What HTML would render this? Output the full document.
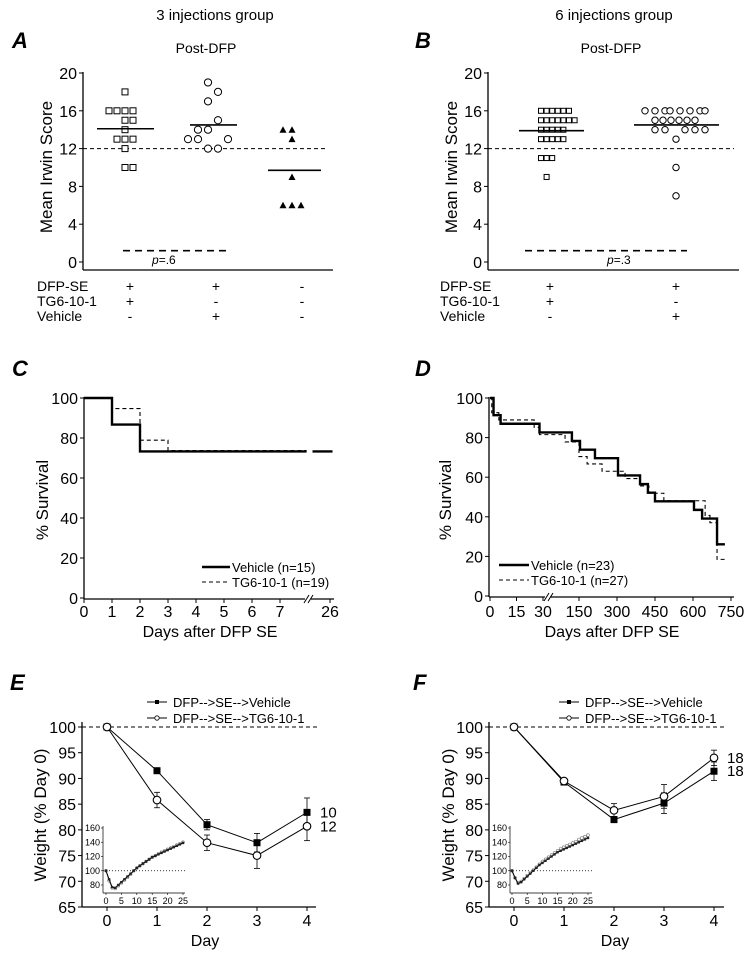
<!DOCTYPE html>
<html><head><meta charset="utf-8"><style>
html,body{margin:0;padding:0;background:#fff;}
svg{display:block;font-family:"Liberation Sans",Arial,sans-serif;}
</style></head><body>
<svg id="fig" width="754" height="958" viewBox="0 0 754 958" xmlns="http://www.w3.org/2000/svg">
<rect x="0" y="0" width="754" height="958" fill="#fff"/>
<text x="215" y="20" font-size="15" text-anchor="middle">3 injections group</text>
<text x="614" y="20" font-size="15" text-anchor="middle">6 injections group</text>
<text x="12" y="48" font-size="22" font-weight="bold" font-style="italic">A</text>
<text x="415" y="48" font-size="22" font-weight="bold" font-style="italic">B</text>
<text x="206" y="53" font-size="14" text-anchor="middle">Post-DFP</text>
<text x="611" y="53" font-size="14" text-anchor="middle">Post-DFP</text>
<text x="12" y="376" font-size="22" font-weight="bold" font-style="italic">C</text>
<text x="415" y="376" font-size="22" font-weight="bold" font-style="italic">D</text>
<text x="10" y="690" font-size="22" font-weight="bold" font-style="italic">E</text>
<text x="413" y="690" font-size="22" font-weight="bold" font-style="italic">F</text>
<text transform="translate(52,167) rotate(-90)" font-size="17" text-anchor="middle">Mean Irwin Score</text>
<text transform="translate(457,167) rotate(-90)" font-size="17" text-anchor="middle">Mean Irwin Score</text>
<text transform="translate(48,500) rotate(-90)" font-size="17" text-anchor="middle">% Survival</text>
<text transform="translate(451,500) rotate(-90)" font-size="17" text-anchor="middle">% Survival</text>
<text transform="translate(46,815) rotate(-90)" font-size="17" text-anchor="middle">Weight (% Day 0)</text>
<text transform="translate(454,815) rotate(-90)" font-size="17" text-anchor="middle">Weight (% Day 0)</text>
<text x="210" y="637" font-size="16" text-anchor="middle">Days after DFP SE</text>
<text x="612" y="637" font-size="16" text-anchor="middle">Days after DFP SE</text>
<text x="205" y="946" font-size="16" text-anchor="middle">Day</text>
<text x="615" y="946" font-size="16" text-anchor="middle">Day</text>
<text x="152" y="264" font-size="12"><tspan font-style="italic">p</tspan>=.6</text>
<text x="607" y="264" font-size="12"><tspan font-style="italic">p</tspan>=.3</text>
</svg>
<script>
// ---------- DATA ----------
const aSqVals = [18,16,16,16,16,15,15,14,13,13,13,12,10,10];
const aSqSlot = [0,-2,-1,0,1,0,1,0,-1,0,1,0,0,1];
const aCiVals = [19,18,17,15,14,14,13,13,13,12,12];
const aCiSlot = [0,1,0,1,-1,0,-2,-1,2,0,1];
const aTrVals = [14,14,13,9,6,6,6];
const aTrSlot = [-1,0,0,0,-1,0,1];
const aMeans = [14.1,14.5,9.7];
const bSqVals = [16,16,16,16,16,16,15,15,15,15,15,15,15,14,14,14,14,14,13,13,13,13,13,11,11,11,9];
const bSqSlot = [-2.5,-1.5,-0.5,0.5,1.5,2.5,-2.5,-1.5,-0.5,0.5,1.5,2.5,3.5,-2.5,-1.5,-0.5,0.5,1.5,-2.5,-1.5,-0.5,0.5,1.5,-2.5,-1.5,-0.5,-1.5];
const bCiVals = [16,16,16,16,16,16,16,16,15,15,15,15,15,15,14,14,14,14,14,13,10,7];
const bCiSlot = [-3.1,-2.1,-1.1,-0.6,0.4,1.4,2.4,2.9,-2.1,-1.3,-0.5,0.3,1.1,1.9,-2.1,-1.1,0.9,1.9,2.9,0,0,0];
const bMeans = [13.9,14.5];
const yTicksIrwin = [0,4,8,12,16,20];
const rowLabels = ["DFP-SE","TG6-10-1","Vehicle"];
const signsA = [["+","+","-"],["+","-","-"],["-","+","-"]];
const signsB = [["+","+"],["+","-"],["-","+"]];
const cVehT = [0,1,2];
const cVehS = [100,86.7,73.3];
const cTgT = [0,1,2,3];
const cTgS = [100,94.7,78.9,73.7];
const cEndDays = [7.95,25.3,26.1];
const cXTicks = [0,1,2,3,4,5,6,7,26];
const survTicks = [0,20,40,60,80,100];
const dVehT = [0,2,6,28,122,154,213,304,391,422,450,604,636,695];
const dVehS = [100,91.3,87,82.6,78.3,73.9,69.6,60.9,56.5,52.2,47.8,43.5,39.1,26.1];
const dTgT = [0,1,5,25,28,95,150,182,241,332,391,426,485,648,667,695];
const dTgS = [100,92.6,88.9,85.2,81.5,77.8,70.4,66.7,63,59.3,55.6,51.9,48.1,40.7,37,29.6];
const dTgLast = [18.5];
const dEndDay = 726;
const dXTicks = [0,15,30,150,300,450,600,750];
const wDays = [0,1,2,3,4];
const eVeh = [100,91.5,81,77.5,83.4];
const eVehErr = [0,0.5,1,1.8,2.8];
const eTg = [100,85.8,77.5,75,80.7];
const eTgErr = [0,1.5,1.5,2.5,2.8];
const eN = ["10","12"];
const fVeh = [100,89.3,82,85.2,91.4];
const fVehErr = [0,0.6,0.6,2,1.8];
const fTg = [100,89.5,83.8,86.5,94];
const fTgErr = [0,0.4,1.3,2.3,1.5];
const fN = ["18","18"];
const wTicks = [65,70,75,80,85,90,95,100];
const inDays = [0,1,2,3,4,5,6,7,8,9,10,11,12,13,14,15,16,17,18,19,20,21,22,23,24,25];
const eInVeh = [100,88,77,76,80,84,88,92,96,100,104,107,110,113,116,119,121,123,125,127,129,131,133,135,137,139];
const eInTg = [100,86,76,75,79,83,87,91,95,100,104,107,110,113,116,119,121,124,126,128,130,132,134,136,138,140];
const fInVeh = [100,90,82,84,88,92,96,100,104,108,111,114,117,120,123,126,128,130,132,134,136,138,140,142,144,146];
const fInTg = [100,90,83,85,89,93,97,101,105,109,113,116,119,122,125,128,131,133,135,137,139,141,144,146,148,150];
const inYTicks = [80,100,120,140,160];
const inXTicks = [0,5,10,15,20,25];

// ---------- HELPERS ----------
const svg = document.getElementById('fig');
const NS = 'http://www.w3.org/2000/svg';
function mk(tag, attrs, name) {
  const el = document.createElementNS(NS, tag);
  for (const k in attrs) el.setAttribute(k, attrs[k]);
  
  
  svg.appendChild(el);
  return el;
}
function ln(x1,y1,x2,y2,name,w,dash){
  const a = {x1:x1,y1:y1,x2:x2,y2:y2,stroke:'#000','stroke-width':w||1};
  if (dash) a['stroke-dasharray'] = dash;
  return mk('line', a, name);
}
function tx(x,y,s,size,anchor,name){
  const t = mk('text', {x:x,y:y,'font-size':size,'text-anchor':anchor||'start'}, name);
  t.textContent = s;
  return t;
}
function stepPath(T,S,xf,yf,endT){
  let d = 'M'+xf(T[0])+','+yf(S[0]);
  for (let i=1;i<T.length;i++){ d += ' L'+xf(T[i])+','+yf(S[i-1])+' L'+xf(T[i])+','+yf(S[i]); }
  d += ' L'+xf(endT)+','+yf(S[S.length-1]);
  return d;
}

// ---------- PANELS A & B ----------
function irwinAxes(ax, x2, yf, tag){
  ln(ax, yf(20)-1, ax, 270, 'y-axis-'+tag, 1.3);
  ln(ax, 270, x2, 270, 'x-axis-'+tag, 1.3);
  yTicksIrwin.forEach(v=>{
    ln(ax-4, yf(v), ax, yf(v), 'y-tick-'+tag);
    tx(ax-6, yf(v)+6, String(v), 16, 'end', 'y-tick-label-'+tag);
  });
}
const yA = v => 262 - v*9.45;
irwinAxes(83, 333, yA, 'a');
irwinAxes(488, 739, yA, 'b');
ln(83, yA(12), 328, yA(12), 'threshold-line-a', 1, '4,3');
ln(488, yA(12), 734, yA(12), 'threshold-line-b', 1, '4,3');
ln(123, yA(1.2), 228, yA(1.2), 'comparison-bar-a', 1.6, '7,5');
ln(525, yA(1.2), 687, yA(1.2), 'comparison-bar-b', 1.6, '7,5');

const colA = [125,208,292];
aSqVals.forEach((v,i)=>{ mk('rect',{x:colA[0]+aSqSlot[i]*8-3,y:yA(v)-3,width:6,height:6,fill:'#fff',stroke:'#000','stroke-width':1},'square-point-a'); });
aCiVals.forEach((v,i)=>{ mk('circle',{cx:colA[1]+aCiSlot[i]*10,cy:yA(v),r:3.6,fill:'#fff',stroke:'#000','stroke-width':1},'circle-point-a'); });
aTrVals.forEach((v,i)=>{ const x=colA[2]+aTrSlot[i]*9, y=yA(v);
  mk('polygon',{points:(x-3.5)+','+(y+3)+' '+(x+3.5)+','+(y+3)+' '+x+','+(y-3.5),fill:'#000'},'triangle-point-a'); });
const meanSpanA = [[97,154],[190,237],[268,321]];
aMeans.forEach((m,i)=>{ ln(meanSpanA[i][0], yA(m), meanSpanA[i][1], yA(m), 'mean-line-a', 1.6); });

const colB = [555,676];
bSqVals.forEach((v,i)=>{ mk('rect',{x:colB[0]+bSqSlot[i]*5.6-2.5,y:yA(v)-2.5,width:5,height:5,fill:'#fff',stroke:'#000','stroke-width':1},'square-point-b'); });
bCiVals.forEach((v,i)=>{ mk('circle',{cx:colB[1]+bCiSlot[i]*10,cy:yA(v),r:3.2,fill:'#fff',stroke:'#000','stroke-width':1},'circle-point-b'); });
const meanSpanB = [[519,584],[634,719]];
bMeans.forEach((m,i)=>{ ln(meanSpanB[i][0], yA(m), meanSpanB[i][1], yA(m), 'mean-line-b', 1.6); });

const rowY = [291,306,321];
const signXA = [130,216,302];
const signXB = [550,676];
rowLabels.forEach((r,j)=>{
  tx(37, rowY[j], r, 14, 'start', 'row-label-a');
  tx(440, rowY[j], r, 14, 'start', 'row-label-b');
  signsA[j].forEach((s,i)=>{ tx(signXA[i], rowY[j], s, 14, 'middle', 'sign-a'); });
  signsB[j].forEach((s,i)=>{ tx(signXB[i], rowY[j], s, 14, 'middle', 'sign-b'); });
});

// ---------- PANEL C ----------
const xC = d => d <= 8 ? 84 + d*28 : 330 + (d-26)*25;
const yC = v => 598 - v*2;
ln(84, yC(100)-1, 84, 599, 'y-axis-c', 1.3);
ln(84, 599, 305, 599, 'x-axis-c', 1.3);
ln(311, 599, 334, 599, 'x-axis-c-right', 1.3);
mk('path',{d:'M304,603 L309,595 M308,603 L313,595',stroke:'#000',fill:'none','stroke-width':1},'axis-break-c');
survTicks.forEach(v=>{ ln(80,yC(v),84,yC(v),'y-tick-c'); tx(78,yC(v)+6,String(v),16,'end','y-tick-label-c'); });
cXTicks.forEach(d=>{ ln(xC(d),599,xC(d),603,'x-tick-c'); tx(xC(d),617,String(d),16,'middle','x-tick-label-c'); });
mk('path',{d:stepPath(cTgT,cTgS,xC,yC,cEndDays[0]),fill:'none',stroke:'#000','stroke-width':1.1,'stroke-dasharray':'4,3'},'survival-line-tg-c');
mk('path',{d:stepPath(cVehT,cVehS,xC,yC,cEndDays[0]),fill:'none',stroke:'#000','stroke-width':2.4},'survival-line-vehicle-c');
ln(xC(cEndDays[1]), yC(cVehS[cVehS.length-1]), xC(cEndDays[2]), yC(cVehS[cVehS.length-1]), 'survival-line-vehicle-c-tail', 2.4);
ln(202,567,230,567,'legend-line-vehicle-c',2.6);
tx(232,572,'Vehicle (n=15)',13,'start','legend-text-vehicle-c');
ln(202,582,230,582,'legend-line-tg-c',1.1,'4,3');
tx(232,587,'TG6-10-1 (n=19)',13,'start','legend-text-tg-c');

// ---------- PANEL D ----------
const xD = d => d <= 30 ? 490 + d*1.767 : 541 + d*0.2533;
const yD = v => 596 - v*1.98;
ln(489, yD(100)-1, 489, 597, 'y-axis-d', 1.3);
ln(489, 597, 545, 597, 'x-axis-d', 1.3);
ln(550, 597, 734, 597, 'x-axis-d-right', 1.3);
mk('path',{d:'M544,601 L549,593 M548,601 L553,593',stroke:'#000',fill:'none','stroke-width':1},'axis-break-d');
survTicks.forEach(v=>{ ln(485,yD(v),489,yD(v),'y-tick-d'); tx(483,yD(v)+6,String(v),16,'end','y-tick-label-d'); });
dXTicks.forEach(d=>{ ln(xD(d),597,xD(d),601,'x-tick-d'); tx(xD(d),617,String(d),16,'middle','x-tick-label-d'); });
mk('path',{d:stepPath(dTgT.concat([695]),dTgS.concat(dTgLast),xD,yD,dEndDay),fill:'none',stroke:'#000','stroke-width':1.1,'stroke-dasharray':'4,3'},'survival-line-tg-d');
mk('path',{d:stepPath(dVehT,dVehS,xD,yD,dEndDay),fill:'none',stroke:'#000','stroke-width':2.4},'survival-line-vehicle-d');
ln(499,565,529,565,'legend-line-vehicle-d',2.6);
tx(531,570,'Vehicle (n=23)',13,'start','legend-text-vehicle-d');
ln(499,580,529,580,'legend-line-tg-d',1.1,'4,3');
tx(531,585,'TG6-10-1 (n=27)',13,'start','legend-text-tg-d');

// ---------- PANELS E & F ----------
const yW = v => 727 - (v-100)*5.143;
function weightPanel(x0, axX, axEnd, veh, vehErr, tg, tgErr, nLab, tag){
  const xf = d => x0 + d*50;
  ln(axX, yW(100)-5, axX, 907, 'y-axis-'+tag, 1.3);
  ln(axX, 907, axEnd, 907, 'x-axis-'+tag, 1.3);
  wTicks.forEach(v=>{ ln(axX-4,yW(v),axX,yW(v),'y-tick-'+tag); tx(axX-6,yW(v)+6,String(v),16,'end','y-tick-label-'+tag); });
  wDays.forEach(d=>{ ln(xf(d),907,xf(d),911,'x-tick-'+tag); tx(xf(d),926,String(d),16,'middle','x-tick-label-'+tag); });
  ln(axX, yW(100), axEnd+3, yW(100), 'baseline-100-'+tag, 1, '4,3');
  const series = [[veh,vehErr,'vehicle'],[tg,tgErr,'tg']];
  series.forEach(s=>{
    mk('polyline',{points:wDays.map((d,i)=>xf(d)+','+yW(s[0][i])).join(' '),fill:'none',stroke:'#000','stroke-width':1},'weight-line-'+s[2]+'-'+tag);
    wDays.forEach((d,i)=>{ if (s[1][i]>0){
      ln(xf(d), yW(s[0][i]+s[1][i]), xf(d), yW(s[0][i]-s[1][i]), 'error-bar-'+s[2]+'-'+tag, 0.8);
      ln(xf(d)-3, yW(s[0][i]+s[1][i]), xf(d)+3, yW(s[0][i]+s[1][i]), 'error-cap-'+s[2]+'-'+tag, 0.8);
      ln(xf(d)-3, yW(s[0][i]-s[1][i]), xf(d)+3, yW(s[0][i]-s[1][i]), 'error-cap-'+s[2]+'-'+tag, 0.8);
    }});
  });
  wDays.forEach((d,i)=>{ mk('rect',{x:xf(d)-3.5,y:yW(veh[i])-3.5,width:7,height:7,fill:'#000'},'square-marker-vehicle-'+tag); });
  wDays.forEach((d,i)=>{ mk('circle',{cx:xf(d),cy:yW(tg[i]),r:3.8,fill:'#fff',stroke:'#000','stroke-width':1.1},'circle-marker-tg-'+tag); });
  const last = wDays.length-1;
  const hiFirst = veh[last] >= tg[last];
  tx(xf(4)+13, yW(hiFirst?veh[last]:tg[last])+5, nLab[0], 15, 'start', 'n-label-'+tag);
  tx(xf(4)+13, yW(hiFirst?tg[last]:veh[last])+5, nLab[1], 15, 'start', 'n-label-'+tag);
}
weightPanel(107, 82, 316, eVeh, eVehErr, eTg, eTgErr, eN, 'e');
weightPanel(514, 489, 724, fVeh, fVehErr, fTg, fTgErr, fN, 'f');

function legendW(x, tag){
  ln(x,702,x+20,702,'legend-line-vehicle-'+tag,1);
  mk('rect',{x:x+8,y:700,width:4,height:4,fill:'#000'},'legend-marker-vehicle-'+tag);
  tx(x+26,707,'DFP-->SE-->Vehicle',13,'start','legend-text-vehicle-'+tag);
  ln(x,718,x+20,718,'legend-line-tg-'+tag,1);
  mk('circle',{cx:x+10,cy:718,r:2.2,fill:'#fff',stroke:'#000','stroke-width':0.8},'legend-marker-tg-'+tag);
  tx(x+26,723,'DFP-->SE-->TG6-10-1',13,'start','legend-text-tg-'+tag);
}
legendW(147,'e');
legendW(559,'f');

function inset(axX, x0, sx, axEnd, veh, tg, tag){
  const xi = d => x0 + d*sx;
  const yi = v => 885 - (v-80)*0.7125;
  ln(axX, yi(160)-2, axX, 893, 'inset-y-axis-'+tag, 0.7);
  ln(axX, 893, axEnd, 893, 'inset-x-axis-'+tag, 0.7);
  inYTicks.forEach(v=>{ ln(axX-2,yi(v),axX,yi(v),'inset-y-tick-'+tag,0.6); tx(axX-3,yi(v)+3,String(v),9,'end','inset-y-tick-label-'+tag); });
  inXTicks.forEach(d=>{ ln(xi(d),893,xi(d),895,'inset-x-tick-'+tag,0.6); tx(xi(d),904,String(d),9,'middle','inset-x-tick-label-'+tag); });
  ln(axX, yi(100), axEnd, yi(100), 'inset-baseline-'+tag, 0.7, '1,2');
  mk('polyline',{points:inDays.map((d,i)=>xi(d)+','+yi(tg[i])).join(' '),fill:'none',stroke:'#888','stroke-width':1},'inset-line-tg-'+tag);
  inDays.forEach((d,i)=>{ mk('circle',{cx:xi(d),cy:yi(tg[i]),r:1.4,fill:'#fff',stroke:'#777','stroke-width':0.6},'inset-marker-tg-'+tag); });
  mk('polyline',{points:inDays.map((d,i)=>xi(d)+','+yi(veh[i])).join(' '),fill:'none',stroke:'#000','stroke-width':1},'inset-line-vehicle-'+tag);
  inDays.forEach((d,i)=>{ mk('rect',{x:xi(d)-1.2,y:yi(veh[i])-1.2,width:2.4,height:2.4,fill:'#222'},'inset-marker-vehicle-'+tag); });
}
inset(103, 106, 3.08, 185, eInVeh, eInTg, 'e');
inset(510, 512, 3.04, 592, fInVeh, fInTg, 'f');
</script>
</body></html>
